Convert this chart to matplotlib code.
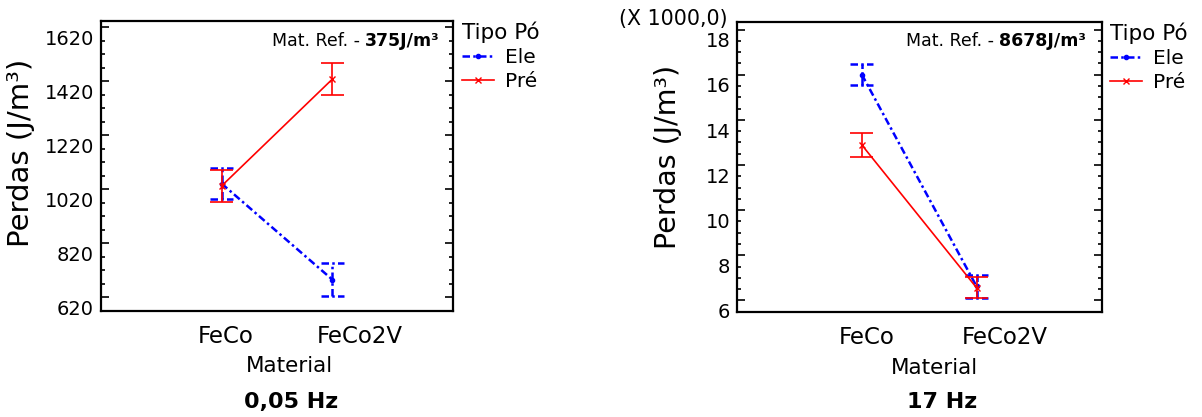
import numpy as np
import matplotlib
matplotlib.use("Agg")
import matplotlib.pyplot as plt
from matplotlib import transforms

plt.rcParams["font.family"] = "DejaVu Sans"

# data
materials = ["FeCo", "FeCo2V"]
series = ["Ele", "Pré"]

# 0,05 Hz (J/m3)
ele_005 = [1080, 724]
ele_005_err = [57, 61]
pre_005 = [1071, 1467]
pre_005_err = [58, 60]
ref_005 = "375J/m³"

# 17 Hz (J/m3)
ele_17 = [16460, 7070]
ele_17_err = [470, 500]
pre_17 = [13340, 7010]
pre_17_err = [535, 475]
ref_17 = "8678J/m³"

left_labels = [620, 820, 1020, 1220, 1420, 1620]
right_labels = [6, 8, 10, 12, 14, 16, 18]

BLUE = "#0000ff"
RED = "#ff0000"
ELE_LS = (0, (3.0, 1.3, 1.0, 1.3))
CAP = 0.1

W, H = 1202, 417
fig = plt.figure(figsize=(W / 100, H / 100), dpi=100)
ax1 = fig.add_axes([100.7 / W, 106 / H, 352.6 / W, 290 / H])
ax2 = fig.add_axes([736.7 / W, 105.3 / H, 365 / W, 290 / H])


def draw_series(ax, x, y, err, color, ls, lw, marker, ms, label):
    y = np.asarray(y, float)
    err = np.asarray(err, float)
    ax.vlines(x, y - err, y + err, colors=color, linestyles=[ls], linewidth=lw)
    ax.hlines(y - err, x - CAP, x + CAP, colors=color, linestyles=[ls], linewidth=lw)
    ax.hlines(y + err, x - CAP, x + CAP, colors=color, linestyles=[ls], linewidth=lw)
    ax.plot(x, y, color=color, linestyle=ls, linewidth=lw, marker=marker,
            markersize=ms, markeredgewidth=1, label=label)


def style_panel(ax, ylim, labels, marks, minor, lab_pad, ref, xl_x, xl_y,
                ylab_xy, xoffs, ylab_size):
    x = np.arange(len(materials))
    ax.set_xlim(-1.09, 2.09)
    ax.set_ylim(*ylim)
    for s in ax.spines.values():
        s.set_linewidth(1.6)

    # tick marks (inward, left and right), labels drawn by a secondary axis
    ax.set_yticks(marks)
    ax.set_yticks(minor, minor=True)
    ax.tick_params(axis="y", which="both", direction="in", left=True,
                   right=True, labelleft=False, width=1.2)
    ax.tick_params(axis="y", which="major", length=6)
    ax.tick_params(axis="y", which="minor", length=3)
    sec = ax.secondary_yaxis("left")
    sec.set_yticks(labels, [str(v) for v in labels])
    sec.tick_params(length=0, labelsize=14, pad=lab_pad)
    sec.spines["left"].set_visible(False)

    ax.set_xticks(x, materials)
    ax.tick_params(axis="x", length=0, labelsize=16.5, pad=10)
    for lab, dx in zip(ax.get_xticklabels(), xoffs):
        lab.set_transform(lab.get_transform() +
                          transforms.ScaledTranslation(dx / 100, 0, fig.dpi_scale_trans))

    ax.set_xlabel("Material", fontsize=15.5)
    ax.xaxis.set_label_coords(xl_x, xl_y)
    ax.set_ylabel("Perdas (J/m³)", fontsize=ylab_size)
    ax.yaxis.set_label_coords(*ylab_xy)

    ax.text(0.96, 0.932, "Mat. Ref. - ", transform=ax.transAxes, fontsize=12.5,
            ha="right", va="center")
    ax.text(0.96, 0.932, ref, transform=ax.transAxes, fontsize=12.5,
            fontweight="bold", ha="left", va="center")


x = np.arange(len(materials))

draw_series(ax1, x, ele_005, ele_005_err, BLUE, ELE_LS, 1.8, ".", 6, series[0])
draw_series(ax1, x, pre_005, pre_005_err, RED, "-", 1.2, "x", 4, series[1])

e17 = np.asarray(ele_17) / 1000
e17e = np.asarray(ele_17_err) / 1000
p17 = np.asarray(pre_17) / 1000
p17e = np.asarray(pre_17_err) / 1000
draw_series(ax2, x, e17, e17e, BLUE, ELE_LS, 1.8, ".", 6, series[0])
draw_series(ax2, x, p17, p17e, RED, "-", 1.2, "x", 4, series[1])

marks1 = np.arange(658, 1700, 200)
minor1 = np.arange(608, 1690, 50)
marks2 = np.arange(6.45, 18.8, 2)
minor2 = np.arange(5.95, 18.8, 0.5)

style_panel(ax1, (613, 1682), left_labels, marks1, minor1, 5.0, ref_005,
            0.534, -0.155, (-0.185, 0.545), [4, 27], 21)
style_panel(ax2, (6.06, 18.8), right_labels, marks2, minor2, 4.5, ref_17,
            0.543, -0.16, (-0.15, 0.535), [5, 28], 20.5)

# Mat. Ref. text: place the bold value to the right of the normal part
fig.canvas.draw()
renderer = fig.canvas.get_renderer()
for ax, right_edge in ((ax1, 0.962), (ax2, 0.957)):
    normal, bold = ax.texts[0], ax.texts[1]
    wb = bold.get_window_extent(renderer).width / ax.bbox.width
    bold.set_x(right_edge - wb)
    normal.set_x(right_edge - wb)

for ax, bx in ((ax1, (462 - 100.7) / 352.6), (ax2, (1110 - 736.7) / 365)):
    ax.legend(title="Tipo Pó", loc="upper left", bbox_to_anchor=(bx, 0.998),
              frameon=False, fontsize=14.5, title_fontsize=15.5,
              alignment="left", handlelength=1.6, handletextpad=0.55,
              labelspacing=0.25, borderpad=0, borderaxespad=0)

fig.text(728 / W, 1 - 19 / H, "(X 1000,0)", fontsize=14.8, ha="right", va="center")
fig.text(291 / W, 1 - 402 / H, "0,05 Hz", fontsize=16, fontweight="bold",
         ha="center", va="center")
fig.text(942 / W, 1 - 402 / H, "17 Hz", fontsize=16, fontweight="bold",
         ha="center", va="center")

fig.savefig("out.png", dpi=100, facecolor="white")
